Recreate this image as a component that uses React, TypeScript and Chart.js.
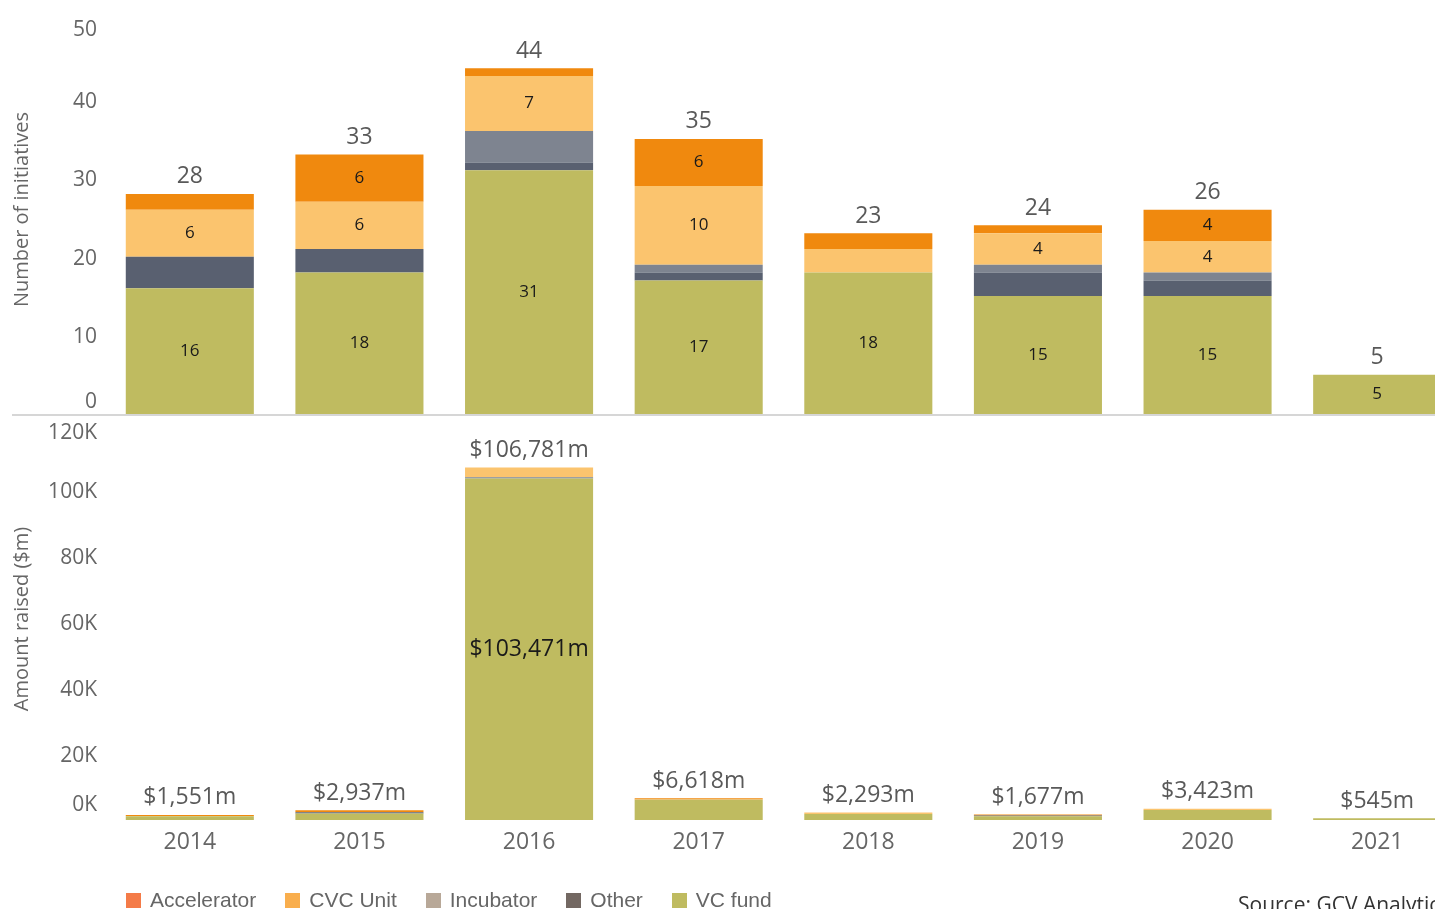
import React, { useEffect, useRef } from "react";
import { Chart, registerables } from "chart.js";

Chart.register(...registerables);

// ---- Data ----
const years = ["2014", "2015", "2016", "2017", "2018", "2019", "2020", "2021"];

// Number of initiatives per year, by type
const countVcFund = [16, 18, 31, 17, 18, 15, 15, 5];
const countOther = [4, 3, 1, 1, 0, 3, 2, 0];
const countIncubator = [0, 0, 4, 1, 0, 1, 1, 0];
const countCvcUnit = [6, 6, 7, 10, 3, 4, 4, 0];
const countAccelerator = [2, 6, 1, 6, 2, 1, 4, 0];
const countTicks = [0, 10, 20, 30, 40, 50];

// Amount raised ($m) per year, by type
const amountVcFund = [1100, 2000, 103471, 6100, 1800, 1100, 3000, 545];
const amountOther = [0, 350, 0, 0, 0, 250, 0, 0];
const amountIncubator = [0, 0, 400, 0, 0, 0, 0, 0];
const amountCvcUnit = [100, 100, 2910, 118, 493, 50, 423, 0];
const amountAccelerator = [351, 487, 0, 400, 0, 277, 0, 0];
const amountTicks = [0, 20000, 40000, 60000, 80000, 100000, 120000];

const seriesNames = ["VC fund", "Other", "Incubator", "CVC Unit", "Accelerator"];
const barColors = ["#BFBB60", "#596070", "#7E8490", "#FBC46E", "#F0890E"];

const legendNames = ["Accelerator", "CVC Unit", "Incubator", "Other", "VC fund"];
const legendColors = ["#F47B48", "#F9AE4D", "#B8A898", "#736862", "#BFBB60"];

const FONT = '"Open Sans", sans-serif';

const countSeries = [countVcFund, countOther, countIncubator, countCvcUnit, countAccelerator];
const amountSeries = [amountVcFund, amountOther, amountIncubator, amountCvcUnit, amountAccelerator];

const fmtMoney = (v: number) => "$" + v.toLocaleString("en-US") + "m";
const fmtK = (v: number) => v / 1000 + "K";

function makeDatasets(series: number[][]) {
  return series.map((data, i) => ({
    label: seriesNames[i],
    data,
    backgroundColor: barColors[i],
    borderWidth: 0,
    stack: "s",
    categoryPercentage: 1,
    barPercentage: 0.755,
  }));
}

function text(ctx: CanvasRenderingContext2D, s: string, x: number, y: number, size: number, color: string, align: CanvasTextAlign = "center") {
  ctx.save();
  ctx.font = `${size}px ${FONT}`;
  ctx.fillStyle = color;
  ctx.textAlign = align;
  ctx.textBaseline = "middle";
  ctx.fillText(s, x, y);
  ctx.restore();
}

// Tick labels are kept inside the plot band, like the end labels of a pane axis
function axisDecor(ticks: number[], fmt: (v: number) => string, title: string, topShift: number, bottomShift: number, titleShift: number) {
  return {
    id: "axisDecor",
    afterDraw(chart: any) {
      const { ctx, chartArea, scales } = chart;
      const y = scales.y;
      ticks.forEach((t) => {
        let py = y.getPixelForValue(t);
        py = Math.max(py, chartArea.top + topShift);
        py = Math.min(py, chartArea.bottom - bottomShift);
        text(ctx, fmt(t), chartArea.left - 8, py + 2, 21, "#666666", "right");
      });
      ctx.save();
      ctx.translate(22, (chartArea.top + chartArea.bottom) / 2 + titleShift);
      ctx.rotate(-Math.PI / 2);
      ctx.font = `20px ${FONT}`;
      ctx.fillStyle = "#666666";
      ctx.textAlign = "center";
      ctx.textBaseline = "middle";
      ctx.fillText(title, 0, 0);
      ctx.restore();
    },
  };
}

function stackLabels(
  series: number[][],
  fmt: (v: number) => string,
  showInside: (di: number, v: number, h: number) => boolean,
  insideSize: number,
  totalSize: number,
  totalGap: number
) {
  return {
    id: "stackLabels",
    afterDatasetsDraw(chart: any) {
      const { ctx } = chart;
      years.forEach((_, i) => {
        let topY = Infinity;
        let x = 0;
        let total = 0;
        series.forEach((s, di) => {
          const el = chart.getDatasetMeta(di).data[i];
          const v = s[i];
          total += v;
          if (!el || v <= 0) return;
          x = el.x;
          topY = Math.min(topY, el.y);
          const h = el.base - el.y;
          if (showInside(di, v, h)) {
            text(ctx, fmt(v), el.x, (el.y + el.base) / 2, insideSize, "#1a1a1a");
          }
        });
        if (total > 0) text(ctx, fmt(total), x, topY - totalGap, totalSize, "#595959");
      });
    },
  };
}

const countLabelSeries = [0, 3, 4];

function CountChart() {
  const ref = useRef<HTMLCanvasElement>(null);
  useEffect(() => {
    const chart = new Chart(ref.current!, {
      type: "bar",
      data: { labels: years, datasets: makeDatasets(countSeries) as any },
      options: {
        animation: false,
        responsive: false,
        devicePixelRatio: 1,
        layout: { padding: { left: 105, right: 0, top: 21, bottom: 4 } },
        plugins: { legend: { display: false }, tooltip: { enabled: false } },
        scales: {
          x: { display: false, stacked: true },
          y: { display: false, stacked: true, min: 0, max: 50 },
        },
      },
      plugins: [
        {
          id: "baseline",
          beforeDatasetsDraw(chart: any) {
            const { ctx, chartArea } = chart;
            ctx.save();
            ctx.strokeStyle = "#d6d6d6";
            ctx.lineWidth = 2;
            ctx.beginPath();
            ctx.moveTo(12, chartArea.bottom + 1);
            ctx.lineTo(chart.width, chartArea.bottom + 1);
            ctx.stroke();
            ctx.restore();
          },
        },
        axisDecor(countTicks, (v) => String(v), "Number of initiatives", 7, 14, -8),
        stackLabels(countSeries, (v) => String(v), (di, v) => countLabelSeries.includes(di) && v >= 4, 17, 23, 17),
      ],
    });
    return () => chart.destroy();
  }, []);
  return <canvas ref={ref} width={1462} height={418} style={{ position: "absolute", left: 0, top: 0 }} />;
}

function AmountChart() {
  const ref = useRef<HTMLCanvasElement>(null);
  useEffect(() => {
    const chart = new Chart(ref.current!, {
      type: "bar",
      data: { labels: years, datasets: makeDatasets(amountSeries) as any },
      options: {
        animation: false,
        responsive: false,
        devicePixelRatio: 1,
        layout: { padding: { left: 105, right: 0, top: 6, bottom: 89 } },
        plugins: { legend: { display: false }, tooltip: { enabled: false } },
        scales: {
          x: { display: false, stacked: true },
          y: { display: false, stacked: true, min: 0, max: 120000 },
        },
      },
      plugins: [
        axisDecor(amountTicks, fmtK, "Amount raised ($m)", 7, 17, -3),
        stackLabels(amountSeries, fmtMoney, (di, v, h) => h > 40, 23, 23, 17),
        {
          id: "yearLabels",
          afterDraw(chart: any) {
            const { ctx, chartArea, scales } = chart;
            years.forEach((yr, i) => {
              text(ctx, yr, scales.x.getPixelForValue(i), chartArea.bottom + 22, 23, "#666666");
            });
          },
        },
      ],
    });
    return () => chart.destroy();
  }, []);
  return <canvas ref={ref} width={1462} height={491} style={{ position: "absolute", left: 0, top: 418 }} />;
}

export default function App() {
  return (
    <div
      style={{
        position: "fixed",
        left: 0,
        top: 0,
        width: 1435,
        height: 909,
        overflow: "hidden",
        background: "#ffffff",
      }}
    >
      <CountChart />
      <AmountChart />
      <div
        style={{
          position: "absolute",
          left: 126,
          top: 888,
          display: "flex",
          alignItems: "center",
          fontFamily: '"Liberation Sans", Arial, sans-serif',
          fontSize: 21,
          color: "#666666",
          lineHeight: "24px",
          whiteSpace: "nowrap",
        }}
      >
        {legendNames.map((n, i) => (
          <div key={n} style={{ display: "flex", alignItems: "center", marginRight: 29 }}>
            <span style={{ display: "inline-block", width: 15, height: 15, background: legendColors[i], marginRight: 9 }} />
            <span>{n}</span>
          </div>
        ))}
      </div>
      <div
        style={{
          position: "absolute",
          left: 1238,
          top: 892,
          fontFamily: FONT,
          fontSize: 21,
          color: "#333333",
          lineHeight: "24px",
          whiteSpace: "nowrap",
        }}
      >
        Source: GCV Analytics
      </div>
    </div>
  );
}
